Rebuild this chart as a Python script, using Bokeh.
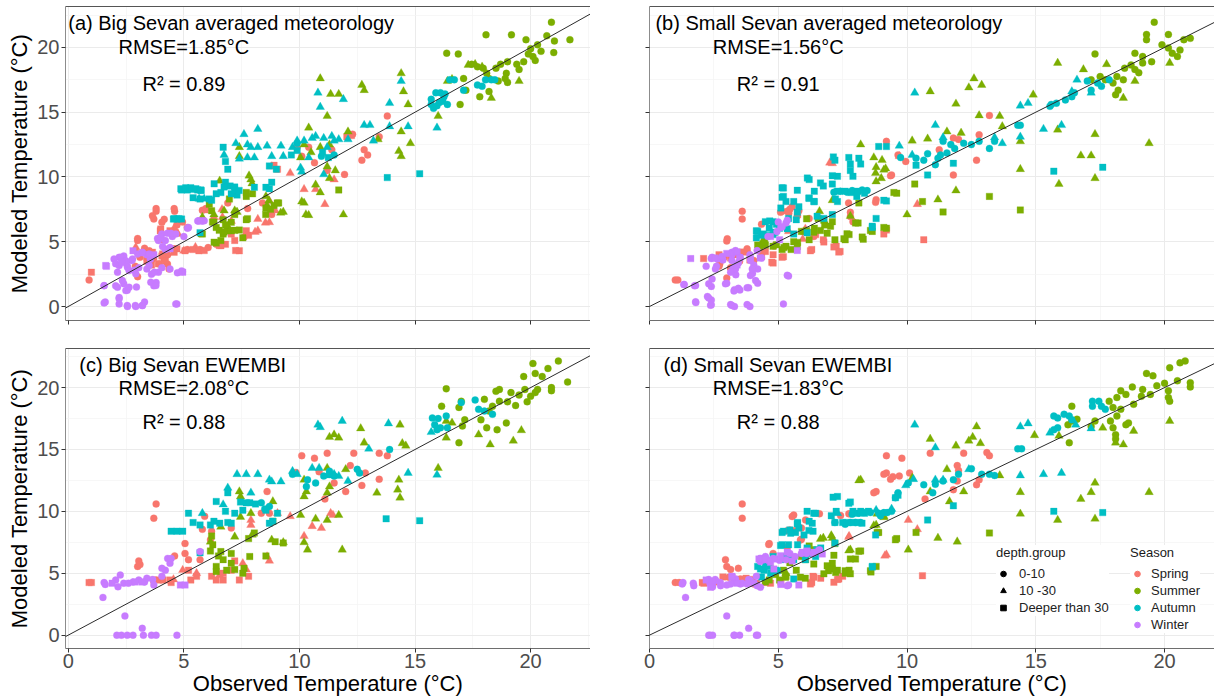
from bokeh.plotting import figure
from bokeh.models import (Label, Slope, LinearAxis, FixedTicker, Legend, LegendItem, Range1d)
from bokeh.layouts import column, row
from bokeh.embed import file_html
from bokeh.resources import INLINE

FONT = "Liberation Sans"
SEASONS = ["Spring", "Summer", "Autumn", "Winter"]
SEASON_COLORS = ["#F8766D", "#7CAE00", "#00BFC4", "#C77CFF"]
DEPTH_GROUPS = ["0-10", "10 -30", "Deeper than 30"]
DEPTH_MARKERS = ["circle", "triangle", "square"]
MARKER_SIZES = [7.0, 8.5, 6.5]
TICKS = [0, 5, 10, 15, 20]
MINOR_TICKS = [2.5, 7.5, 12.5, 17.5, 22.5]

TITLES = ["(a) Big Sevan averaged meteorology", "(b) Small Sevan averaged meteorology",
          "(c) Big Sevan EWEMBI", "(d) Small Sevan EWEMBI"]
RMSE_TEXT = ["RMSE=1.85°C", "RMSE=1.56°C", "RMSE=2.08°C", "RMSE=1.83°C"]
R2_TEXT = ["R² = 0.89", "R² = 0.91", "R² = 0.88", "R² = 0.88"]

# ---------------- Panel (a) Big Sevan averaged meteorology ----------------
a_spring_circ = [(3.8,7.35),(3.7,6.75),(4.6,7.35),(3.0,5.1),(0.9,2.05),(3.3,4.5),(4.05,6.5),(4.7,6.3),(5.15,6.1),(6.9,8.0),(8.4,8.0),(9.9,12.3),(10.4,12.3),(10.65,11.1),(11.2,10.5),(11.95,10.2),(12.3,13.3),(12.8,12.1),(12.95,11.7),(12.7,11.3),(13.45,13.1),(13.8,14.7),(11.4,12.1),(5.7,4.4),(6.05,4.55),(6.4,4.8),(5.15,4.4),(10.1,11.6),(3.5,4.3),(4.3,4.0),(2.9,3.1),(3.1,3.8),
                 (3.0,5.25),(3.8,7.56),(4.58,7.56),(3.64,7.0),(4.15,6.73),(4.94,6.52),(3.0,2.3),(3.64,3.67),(3.93,3.28),(4.15,3.67),(4.29,3.28),(4.36,2.9),(7.6,5.35),(8.8,7.1),(7.76,7.56),(5.95,7.56),(5.8,7.43)]
a_spring_tri = [(2.9,4.4),(4.1,5.1),(4.65,5.85),(4.75,5.6),(5.9,7.4),(6.3,6.9),(6.65,7.5),(7.05,6.6),(7.7,5.6),(8.2,5.85),(8.2,6.75),(8.7,6.5),(8.95,7.4),(8.7,8.15),(9.6,10.3),(10.2,9.05),(10.7,9.05),(11.1,7.9),(11.5,9.8),(8.8,10.8),(5.0,4.3),
                (4.58,6.05),(2.92,4.58),(5.5,4.58),(8.08,5.75),(8.53,6.47),(6.67,6.9)]
a_spring_sq = [(1.0,2.65),(3.98,5.85),(4.4,5.85),(3.4,3.5),(3.7,3.8),(4.05,3.9),(4.2,3.5),(3.9,3.3),(3.4,3.8),(4.5,4.45),(4.7,4.45),(5.05,4.3),(5.4,4.4),(5.65,4.3),(7.4,4.3),(6.8,4.8),(6.6,4.7),(7.05,5.6),(7.7,5.85),(7.8,5.5),(7.2,5.1),(9.05,10.6),(8.9,10.9),(12.05,13.1),(12.25,13.2),(4.2,4.4),(3.6,3.2),
               (4.0,5.98),(3.64,4.19),(4.08,4.06),(4.58,4.19),(5.88,4.32),(6.53,4.71),(7.24,4.32)]
a_summer_circ = [(20.9,21.95),(18.07,20.97),(19.17,20.97),(16.37,19.56),(16.87,19.49),(21.03,20.5),(19.8,20.6),(20.3,20.2),(20.45,19.7),(21.0,19.6),(21.7,20.6),(20.7,20.9),(20.0,19.9),(20.2,19.0),(19.7,18.9),(19.4,18.7),(19.0,18.9),(18.7,18.7),(18.5,18.4),(18.95,18.0),(18.9,17.6),(19.0,17.3),(18.6,17.4),(18.2,17.6),(18.1,18.0),(17.7,18.5),(17.45,18.7),(17.95,18.4),(18.2,16.6),(17.8,16.2),(16.95,15.6),(17.2,16.7),(17.1,17.6),(19.5,18.3),(19.9,19.5),(20.1,19.3)]
a_summer_tri = [(17.6,18.7),(17.9,18.5),(17.3,18.65),(16.4,17.4),(16.6,17.55),(18.3,16.1),(19.5,17.4),(16.0,14.7),(14.4,18.0),(14.5,16.6),(12.7,17.1),(12.8,16.7),(11.35,16.4),(11.7,16.4),(10.9,17.6),(14.7,15.6),(11.2,14.7),(10.4,13.8),(14.4,13.5),(14.3,12.0),(14.4,11.6),(14.8,12.6),(13.4,12.9),(12.1,13.5),(11.3,12.5),(10.9,12.3),(10.2,12.5),(10.5,11.9),(10.05,11.5),(11.2,10.8),(11.55,10.5),(11.3,9.9),(10.7,9.4),(10.9,8.8),(10.2,8.0),(10.4,7.05),(11.9,7.1),(9.3,7.3),(8.6,7.8),(8.55,8.5),(7.9,9.8),(7.4,12.3),(7.4,11.6),(6.55,9.7),(6.3,7.1),(7.3,7.3),(7.95,9.5),(6.9,6.2),
                (5.8,6.9),(6.74,7.4),(7.2,7.4),(7.82,10.1),(9.19,7.23),(10.1,8.1),(10.28,7.1),(8.68,8.18)]
a_summer_sq = [(11.7,9.0),(9.1,8.0),(8.55,7.6),(7.7,8.5),(7.97,8.7),(7.7,6.7),(7.2,7.1),(7.05,6.5),(7.05,5.85),(6.7,5.6),(6.4,6.1),(6.3,6.5),(6.1,7.9),(6.2,7.4),(5.8,5.6),(6.6,5.1),(7.55,5.3),(6.9,5.85),(6.7,6.7),(6.4,4.9),(6.97,8.3),(7.7,8.8),(8.9,7.8),(7.4,5.9),(6.8,6.3),
               (6.24,6.52),(6.53,5.88),(6.74,5.75),(5.75,5.62),(6.31,4.97),(7.2,5.88),(7.75,6.78),(8.54,7.1),(8.75,7.5),(9.04,8.0)]
a_autumn_circ = [(15.9,16.5),(16.1,16.5),(16.3,16.4),(15.7,16.0),(15.7,15.6),(15.95,15.5),(16.2,15.85),(16.4,15.6),(16.05,15.75),(16.5,17.5),(16.7,17.5),(17.1,16.7),(17.7,17.1),(17.9,17.0),(18.3,17.5),(18.45,17.5),(18.05,17.5),(15.8,15.3),(16.25,16.2),(11.5,11.7),(10.95,11.6),(9.9,12.6)]
a_autumn_tri = [(15.95,13.8),(10.8,16.5),(10.9,15.4),(11.9,16.0),(14.4,17.4),(13.9,15.7),(13.9,13.9),(14.7,13.9),(12.8,14.0),(13.05,14.0),(8.2,13.7),(7.6,13.3),(7.25,12.6),(7.75,12.5),(7.9,12.3),(8.2,12.3),(8.6,12.4),(9.2,12.4),(8.8,11.6),(9.3,11.6),(9.7,12.3),(9.9,12.8),(10.2,12.8),(10.55,13.0),(10.7,13.15),(11.05,13.0),(11.4,13.15),(11.5,12.8),(11.7,12.9),(10.4,11.5),(10.05,10.7),(10.1,10.4),(11.05,10.2),(8.05,11.5),(7.75,11.5),(7.4,11.4),(11.2,12.3),(12.1,12.9),(13.2,12.8),
                (5.66,8.31),(5.88,8.31),(6.74,11.7)]
a_autumn_sq = [(6.7,12.3),(6.9,10.6),(6.8,11.2),(13.8,9.95),(15.2,10.25),(5.7,5.7),(4.9,9.0),(5.15,9.0),(5.4,9.05),(5.6,9.0),(5.75,8.95),(5.7,8.3),(6.1,8.3),(6.4,8.7),(6.6,8.8),(7.05,8.7),(7.3,8.6),(7.0,9.3),(6.8,9.6),(7.2,9.0),(8.55,9.2),(8.8,9.6),(8.7,9.1),(8.05,9.2),(5.4,8.4),(4.7,6.75),(4.55,6.75),(4.9,6.75),(11.0,11.9),(11.25,11.5),(9.9,12.05),(9.65,11.7),(8.7,10.85),(9.0,10.6),(6.2,8.2),
               (4.87,9.09),(5.08,9.17),(5.3,9.17),(5.52,9.09),(5.73,9.0),(4.58,6.78),(4.79,6.78),(6.31,9.47),(6.74,9.22),(7.2,9.22),(7.39,8.96)]
a_winter_circ = [(1.55,1.6),(1.6,0.35),(2.2,0.2),(2.55,0.08),(2.9,0.08),(3.2,0.08),(3.3,0.35),(4.7,0.2),(2.2,0.7),(2.55,1.25),(2.95,1.5),(2.4,1.75),(2.05,1.6),(3.7,1.6),(3.8,1.85),(2.05,3.3),(2.2,3.8),(2.4,3.9),(2.75,3.55),(2.55,3.15),(3.2,4.15),(3.4,4.0),(3.55,3.65),(3.05,3.0),(2.85,2.8),(3.4,2.9),(3.9,2.65),(3.6,2.5),(4.05,3.0),(4.4,2.9),(4.9,2.75),(4.4,4.55),(4.2,5.1),(3.9,5.1),(4.05,5.6),(4.5,5.4),(4.2,4.4),(4.65,5.6),(5.2,6.1),(5.6,6.6),(5.8,6.6),(5.0,5.4),
                 (1.55,0.28),(2.2,0.6),(2.56,0.0),(2.92,0.0),(3.21,0.07),(4.65,0.2),(1.55,1.62),(2.13,1.49),(2.49,1.23),(2.63,1.49),(2.34,2.0),(2.13,2.65),(2.2,3.16),(2.56,3.03),(1.98,3.67),(2.27,3.8),(2.49,3.54),(2.78,3.67),(3.0,4.06),(3.21,4.19),(3.5,4.06),(3.5,3.16),(3.72,2.65),(3.57,1.88),(3.79,1.62),(2.63,2.78),(2.92,2.52),(3.86,5.25),(4.0,5.39),(4.29,5.65),(4.44,5.65),(4.08,4.63),(4.72,2.6),(4.94,2.69),(5.16,6.05),(5.66,6.62),(5.88,6.62)]
a_winter_tri = []
a_winter_sq = [(1.65,3.1),(2.8,4.3),(4.4,4.45),(4.95,2.65),(5.7,6.6),(3.7,4.0),(2.3,3.4),(1.62,3.16)]

# ---------------- Panel (b) Small Sevan averaged meteorology ----------------
b_spring_circ = [(3.6,7.35),(3.6,6.75),(3.0,5.05),(1.0,2.05),(1.1,2.05),(3.15,2.95),(2.7,3.1),(3.0,2.2),(5.15,7.35),(5.8,7.4),(5.45,7.5),(8.8,8.25),(9.4,10.15),(9.2,12.75),(9.65,11.7),(9.95,11.2),(11.25,12.1),(11.8,13.0),(12.0,12.9),(12.8,13.25),(13.2,14.75),(12.7,11.3),(11.8,10.15),(7.8,6.95),(7.9,6.55),(6.2,6.8),(5.95,5.8),(3.5,3.5),(3.8,4.2),(4.3,4.3),(2.9,3.8),
                 (3.02,5.23),(2.73,3.3),(3.15,3.0),(3.79,4.45),(4.05,3.55),(4.35,6.35),(5.09,7.28),(5.35,7.35),(5.54,7.7),(5.41,7.2),(5.74,7.0),(4.83,4.67),(6.38,5.4),(7.8,7.27),(7.73,8.0),(8.78,8.04),(9.36,10.1)]
b_spring_tri = [(7.1,11.05),(10.4,7.9),(5.4,5.8),(6.05,6.0),(5.95,5.2),(9.7,11.6),(7.0,11.1)]
b_spring_sq = [(2.1,3.7),(3.4,4.0),(3.6,4.2),(2.7,4.0),(3.15,3.75),(3.9,3.6),(4.35,3.85),(4.5,4.25),(4.8,4.0),(5.2,3.85),(4.8,3.35),(6.3,4.4),(7.25,4.65),(7.4,4.25),(10.65,5.15),(9.2,5.9),(6.75,5.15),(6.45,5.55),(5.75,7.1),
               (4.75,3.42),(5.15,3.8),(6.25,4.3),(6.77,4.98),(7.16,4.6),(7.35,4.2),(9.1,5.6)]
b_summer_circ = [(19.6,21.95),(19.3,21.0),(20.15,21.0),(19.3,20.6),(17.3,19.5),(18.85,19.55),(19.15,19.3),(20.15,19.95),(20.6,19.8),(20.75,20.6),(21.0,20.7),(19.9,20.2),(19.5,18.9),(19.15,18.8),(18.7,18.65),(18.45,18.4),(18.85,18.3),(19.0,18.05),(18.15,17.75),(18.4,17.5),(18.0,17.25),(18.1,16.35),(18.2,16.7),(17.7,17.5),(17.5,17.75),(17.15,17.5),(20.5,19.3),(20.3,19.55)]
b_summer_tri = [(15.85,18.8),(16.85,18.3),(17.75,18.7),(18.4,16.1),(18.85,17.4),(20.2,18.8),(19.4,12.6),(17.3,13.3),(16.75,11.65),(17.15,11.65),(17.3,9.9),(15.9,9.45),(14.4,10.6),(14.4,12.75),(15.85,13.65),(14.9,16.35),(13.6,14.7),(13.7,13.9),(12.8,14.75),(12.6,17.6),(12.4,16.9),(12.9,17.1),(11.9,15.65),(10.9,16.6),(11.55,13.5),(12.1,13.4),(10.8,12.95),(10.2,12.8),(8.2,12.5),(8.8,10.75),(9.1,10.55),(8.8,9.65),(11.9,8.95),(11.2,8.25),(10.0,7.1),(4.35,4.9),(6.6,7.35),(6.85,6.3),(9.0,9.9),
                (8.71,11.5),(9.03,11.3),(9.17,10.65),(8.78,10.3),(7.8,6.98),(7.1,8.2)]
b_summer_sq = [(13.2,8.5),(14.4,7.45),(11.4,7.3),(10.6,8.1),(10.3,9.45),(9.6,8.75),(9.2,6.05),(8.65,5.8),(8.3,5.2),(8.1,6.45),(7.75,5.55),(7.6,5.15),(7.2,5.15),(7.1,6.55),(6.9,5.65),(6.8,6.3),(6.4,6.05),(6.2,5.15),(5.9,5.8),(5.3,4.65),(5.5,4.4),(5.15,4.4),(4.8,4.65),(4.5,4.75),(4.2,4.75),(5.75,4.95),(6.55,6.8),
               (9.49,8.8),(8.13,8.0),(8.0,6.45),(6.77,6.66),(7.03,6.2),(6.1,6.77),(6.1,5.87),(6.38,5.74),(7.67,5.61),(7.55,5.23),(8.26,5.36),(8.58,5.87),(9.1,6.1),(5.22,4.55),(4.93,4.77),(4.28,4.64),(4.47,5.03),(5.6,5.0),(5.74,4.64),(6.64,5.87)]
b_autumn_circ = [(15.55,15.45),(15.8,15.7),(16.15,15.95),(16.4,16.2),(16.5,16.5),(17.15,16.7),(17.4,17.25),(17.55,17.0),(17.85,17.5),(17.0,17.4),(15.6,15.6),(14.3,14.0),(14.4,14.0),(13.4,12.75),(13.2,12.2),(12.8,12.75),(12.5,12.5),(12.2,12.6),(11.85,12.2),(11.55,11.85),(11.3,11.7),(11.2,11.45),(11.1,10.95),(10.65,11.3),(10.35,11.45),(9.75,11.5),(10.8,11.8),(11.4,12.75),(11.7,12.5),
                 (7.16,8.82),(7.42,8.9),(7.68,8.82),(7.87,8.95),(8.07,8.82),(8.26,9.0),(8.45,8.95)]
b_autumn_tri = [(10.3,16.5),(11.1,14.0),(14.4,15.5),(14.7,15.7),(15.3,13.7),(16.0,14.0),(14.4,13.1),(16.6,17.5),(16.4,16.6),(17.15,16.5),(11.4,13.05),(9.7,12.4),(10.2,11.7),(13.4,13.05),(13.7,12.6)]
b_autumn_sq = [(8.9,12.35),(9.2,12.35),(7.2,11.3),(7.8,11.0),(8.2,11.0),(7.9,10.05),(7.3,10.05),(7.1,9.45),(6.2,9.8),(6.75,9.3),(6.4,8.9),(6.2,8.35),(6.4,8.1),(5.2,9.15),(5.2,8.5),(5.3,8.1),(5.6,8.1),(5.8,7.7),(7.3,8.9),(7.6,8.9),(7.85,8.8),(8.1,8.9),(8.35,8.75),(8.05,8.5),(7.3,8.1),(9.2,8.15),(10.8,10.15),(10.35,10.9),(11.8,11.05),(15.7,10.45),(17.6,10.75),(8.65,6.1),(8.8,6.8),(5.1,7.6),(4.8,6.55),(4.2,5.8),(4.35,5.5),(4.5,6.55),(4.65,6.05),(4.8,5.55),(5.05,6.05),(4.15,5.3),(5.4,6.8),(5.7,6.7),
               (5.15,9.16),(5.15,8.44),(5.74,8.97),(6.13,9.92),(6.19,8.37),(6.38,8.1),(6.64,9.54),(7.1,10.1),(7.74,11.5),(8.13,11.45),(7.8,10.5),(7.14,11.55),(4.67,6.61),(4.93,6.35),(4.15,5.84),(4.41,5.6),(4.61,5.48),(4.87,5.74),(5.35,6.0),(5.6,5.6),(6.12,5.7),(5.74,7.28),(6.51,6.96),(6.77,6.8),(7.1,7.1),(7.22,8.3),(9.1,8.2),(8.65,6.2)]
b_winter_circ = [(1.8,0.3),(2.4,0.13),(3.2,0.08),(3.3,0.0),(3.9,0.0),(5.2,0.2),(2.25,0.77),(2.4,0.5),(3.3,1.3),(3.45,1.4),(3.85,1.45),(3.0,1.8),(2.4,1.55),(1.75,1.6),(1.35,1.7),(4.2,1.8),(5.4,2.35),(4.0,2.55),(3.35,2.45),(3.25,2.95),(3.45,3.35),(2.85,3.6),(2.4,3.7),(2.6,3.1),(2.2,3.1),(4.05,3.2),(4.35,3.75),(4.2,2.9),(3.9,4.0),(3.2,4.0),(4.95,5.8),(5.3,6.45),(5.1,6.1),(4.6,5.4),
                 (2.43,3.8),(2.63,3.66),(2.82,3.86),(3.2,4.19),(3.34,4.32),(3.2,3.55),(3.53,3.8),(3.92,3.8),(4.18,4.32),(3.99,2.9),(4.12,2.0),(3.92,2.39),(3.34,2.9),(3.15,2.65),(2.56,2.9),(2.43,2.13),(2.3,1.75),(1.79,1.62),(1.33,1.7),(2.3,0.66),(2.37,0.1),(1.79,0.36),(3.15,0.15),(3.28,1.2),(3.51,1.27),(3.79,1.45),(3.79,0.15),(5.35,2.41),(2.95,1.75),(5.0,6.53),(5.35,6.66),(3.92,3.55),(5.15,6.15)]
b_winter_tri = []
b_winter_sq = [(1.6,3.7),(2.55,3.75),(3.0,4.1),(3.4,4.2),(3.5,3.75),(4.3,3.75),(4.7,5.4),(5.05,5.15),(3.4,3.2),(5.74,4.33)]

# ---------------- Panel (c) Big Sevan EWEMBI ----------------
c_spring_circ = [(3.8,10.6),(3.7,9.45),(3.05,6.0),(3.0,5.55),(3.1,5.7),(5.05,7.4),(5.05,6.6),(5.2,6.1),(5.7,6.1),(5.9,9.6),(5.8,8.55),(7.05,8.65),(6.15,7.7),(6.2,8.4),(8.6,11.6),(8.7,9.85),(8.35,9.85),(10.1,14.5),(10.65,14.3),(11.2,14.7),(10.85,13.2),(11.5,12.3),(12.0,11.6),(11.1,11.0),(12.2,13.7),(12.35,14.7),(12.7,12.1),(13.45,14.7),(13.8,14.5),(13.45,12.6),(12.85,13.1),(9.85,13.15),(4.6,6.4)]
c_spring_tri = [(4.55,4.5),(4.95,5.25),(5.55,5.0),(6.55,4.85),(7.55,5.8),(7.7,5.3),(7.9,9.3),(7.9,8.9),(8.6,6.35),(8.7,6.0),(9.05,9.85),(9.6,9.6),(10.2,8.0),(10.55,8.8),(10.95,8.65),(11.35,9.85),(11.45,9.7)]
c_spring_sq = [(1.0,4.25),(0.9,4.25),(3.7,4.45),(3.9,4.45),(4.1,4.45),(4.4,4.45),(4.45,4.25),(5.2,5.25),(5.3,4.45),(5.55,4.75),(6.2,4.75),(6.4,4.45),(6.7,4.45),(6.7,5.0),(7.4,4.45),(7.8,4.75),(7.05,5.25),(7.2,6.0)]
c_summer_circ = [(20.1,21.95),(21.2,22.15),(19.7,20.9),(20.2,21.15),(20.75,21.55),(20.5,20.9),(16.35,19.9),(18.5,19.7),(18.65,19.85),(19.15,19.6),(19.5,19.4),(19.75,19.85),(20.0,19.3),(20.3,19.85),(20.9,20.0),(20.9,19.75),(21.6,20.45),(20.2,19.6),(19.85,18.85),(19.35,18.55),(19.0,18.85),(18.65,18.9),(18.35,18.5),(18.0,19.05),(18.2,18.1),(17.85,17.4),(18.1,16.75),(18.55,16.6),(18.95,17.15),(17.0,18.9),(16.9,18.4),(16.15,18.5),(16.9,15.55),(17.15,17.4),(17.05,16.9)]
c_summer_tri = [(16.35,17.3),(16.6,17.15),(17.75,16.2),(18.25,15.4),(19.25,15.7),(19.6,16.55),(16.35,15.95),(16.0,13.5),(14.35,17.0),(14.45,15.5),(14.6,15.3),(14.3,12.55),(14.25,11.75),(14.35,11.1),(13.35,11.5),(12.8,15.55),(12.65,16.7),(12.0,13.4),(11.5,16.2),(11.3,16.0),(11.7,15.95),(11.2,13.5),(11.3,12.0),(11.2,11.5),(11.7,9.7),(11.2,9.3),(10.7,9.4),(10.2,12.55),(10.3,11.6),(10.2,11.2),(10.05,9.7),(10.2,7.5),(10.35,6.9),(11.85,6.9),(8.85,10.8),(9.3,7.5),(8.8,7.7),(7.95,8.1),(7.9,9.85),(7.4,11.6),(7.45,11.2),(7.45,9.55),(6.6,8.75),(6.15,7.55),(7.2,7.95)]
c_summer_sq = [(6.2,8.0),(6.25,7.3),(6.15,6.8),(6.6,6.75),(6.5,6.4),(7.05,6.6),(6.7,6.1),(6.4,5.55),(7.05,5.8),(7.2,5.3),(6.85,5.25),(6.4,5.15),(7.6,5.4),(7.55,5.0),(7.85,6.35),(8.55,6.4),(9.3,7.45),(8.95,7.55),(8.85,9.2),(8.05,8.25),(7.8,7.8)]
c_autumn_circ = [(15.75,17.55),(16.0,17.5),(16.35,17.7),(15.85,17.0),(16.1,16.75),(15.95,16.6),(16.4,16.75),(17.0,18.8),(17.6,19.0),(17.75,18.25),(18.0,18.1),(18.35,17.85),(13.9,15.0),(12.5,13.4),(12.6,13.1),(11.3,13.0),(11.05,12.85),(11.5,12.85),(10.35,12.55),(10.3,12.0),(10.7,12.3),(9.7,13.0),(11.3,13.25),(8.35,10.7),(8.7,10.4),(8.5,10.2)]
c_autumn_tri = [(10.8,17.0),(10.9,16.8),(11.85,17.3),(13.85,17.1),(13.0,15.05),(14.7,13.1),(15.95,12.95),(15.7,16.4),(7.3,13.0),(7.7,13.0),(8.2,13.0),(8.7,12.55),(8.8,12.4),(9.2,12.4),(9.7,13.25),(9.9,13.0),(10.55,13.5),(10.85,13.5),(11.35,12.9),(11.5,13.0),(11.7,12.85),(7.9,11.5),(6.9,11.9),(5.8,9.85),(6.7,10.55),(12.1,12.45)]
c_autumn_sq = [(4.45,8.4),(4.7,8.4),(4.95,8.4),(5.2,9.85),(5.4,9.1),(5.7,8.9),(6.15,8.9),(6.3,9.2),(6.55,9.05),(6.4,10.8),(6.8,10.0),(6.9,9.1),(7.05,9.05),(7.2,9.85),(7.55,10.1),(7.45,10.75),(7.7,10.7),(7.85,10.7),(8.1,10.6),(8.55,10.1),(8.7,9.05),(8.85,9.2),(9.05,9.85),(13.75,9.4),(15.2,9.25),(5.7,6.65),(6.9,11.5)]
c_winter_circ = [(2.1,0.0),(2.3,0.0),(2.55,0.0),(2.8,0.0),(3.25,0.0),(3.6,0.0),(3.8,0.0),(4.7,0.0),(3.2,0.55),(2.45,1.55),(1.5,3.05),(1.55,4.25),(2.05,4.45),(2.25,4.85),(2.4,4.2),(2.8,4.3),(3.05,4.45),(3.4,4.6),(3.65,4.5),(3.7,4.05),(2.15,3.9),(4.2,5.25),(4.05,5.4),(4.4,5.8),(4.3,6.2),(4.45,6.2),(4.05,4.75),(5.7,6.75),(1.6,4.1),(2.6,4.2),(3.3,4.3)]
c_winter_tri = []
c_winter_sq = [(4.85,4.05),(5.05,4.05),(1.9,4.2),(2.9,4.3),(3.2,4.3)]

# ---------------- Panel (d) Small Sevan EWEMBI ----------------
d_spring_circ = [(3.6,10.6),(3.6,9.45),(2.95,6.1),(3.0,5.55),(3.15,5.3),(3.45,5.4),(1.0,4.25),(1.15,4.25),(4.65,7.4),(4.8,6.6),(5.6,9.7),(5.45,8.5),(5.9,8.65),(6.6,9.8),(7.8,9.8),(5.9,7.75),(8.8,11.6),(9.2,14.5),(9.8,14.3),(9.2,13.1),(9.45,12.8),(9.7,12.85),(10.1,13.1),(10.9,14.7),(12.2,14.7),(13.1,14.75),(13.2,14.5),(11.95,13.7),(12.0,13.3),(11.95,12.45),(11.8,11.75),(12.7,12.15),(12.8,12.55),(10.7,11.0),
                 (3.08,4.68),(3.53,4.54),(3.86,4.41),(4.05,4.14),(4.63,7.32),(5.35,8.44),(5.54,9.58),(5.35,7.1),(5.86,7.69),(6.06,9.31),(7.42,9.66),(7.74,9.8),(9.1,13.0),(9.36,12.6),(8.71,11.5)]
d_spring_tri = [(7.75,8.0),(9.2,6.5),(10.4,8.55),(10.05,9.3),(7.74,7.92),(9.14,6.42)]
d_spring_sq = [(2.05,4.25),(2.55,4.3),(2.85,4.7),(3.3,4.5),(3.5,4.5),(3.75,4.6),(4.0,4.5),(4.15,4.2),(4.5,4.25),(4.7,4.2),(5.1,4.3),(6.35,4.75),(6.65,4.6),(6.3,4.25),(7.3,4.5),(7.5,4.75),(10.6,4.8),(5.65,8.45),
               (2.11,4.2),(6.25,4.14),(6.38,4.68),(7.16,4.27),(7.35,4.54)]
d_summer_circ = [(20.8,22.15),(20.6,22.0),(20.2,21.6),(19.3,21.15),(19.55,20.95),(20.5,20.55),(21.0,20.4),(21.0,20.05),(20.0,20.35),(19.7,20.15),(19.15,19.85),(18.75,20.05),(18.3,19.75),(18.5,19.45),(18.15,19.2),(17.85,18.9),(19.1,19.3),(19.45,19.45),(20.15,19.75),(20.15,19.2),(20.2,18.9),(18.8,18.65),(18.0,18.4),(18.3,18.25),(18.15,17.7),(17.9,17.3),(18.0,16.75),(18.5,17.0),(18.6,17.15),(18.1,16.2),(18.1,15.85),(17.3,17.3),(17.15,16.85),(16.4,18.5),(16.4,17.3),(16.6,17.45),(16.25,17.0),(16.3,15.55)]
d_summer_tri = [(20.2,17.3),(18.8,16.5),(18.4,15.4),(18.1,15.55),(17.6,16.75),(15.9,16.1),(14.95,16.15),(12.7,16.85),(12.55,16.0),(12.4,15.7),(12.85,15.5),(11.9,15.3),(10.9,15.85),(11.55,13.4),(10.9,11.6),(11.65,10.8),(12.2,11.6),(13.6,12.9),(14.4,11.55),(14.4,9.8),(15.85,9.3),(16.75,11.0),(17.15,11.55),(17.3,12.3),(17.3,9.4),(19.4,11.55),(11.95,7.55),(11.2,7.85),(10.05,6.9),(10.2,12.7),(8.2,12.55),(8.8,8.9),(9.1,9.6),(7.1,7.85),(6.75,7.85),(7.8,6.9),(4.8,5.25),(5.3,5.0),
                (8.13,12.5),(6.64,7.77),(7.06,8.05),(7.74,6.83),(8.71,8.85),(9.1,9.52),(8.84,9.8)]
d_summer_sq = [(13.2,8.25),(10.35,8.3),(9.6,7.8),(8.9,8.3),(8.8,5.55),(8.6,5.1),(8.2,6.8),(8.0,6.15),(7.75,5.25),(7.6,5.0),(7.3,5.25),(7.1,5.8),(6.95,5.2),(7.2,7.4),(6.35,6.9),(6.2,7.2),(5.9,6.35),(5.45,5.85),(5.2,5.25),(5.3,4.75),(5.05,4.45),(4.65,4.45),(4.9,4.9),(5.7,5.25),(6.05,4.6),
               (7.16,6.45),(8.13,6.78),(7.8,6.15),(6.9,5.6),(7.1,5.34),(7.23,5.07),(7.6,5.2),(7.8,4.95),(6.77,4.95),(6.38,5.74),(6.06,6.1),(5.86,4.68),(5.28,4.68),(4.5,4.3),(8.58,5.2),(8.84,8.3),(9.55,7.7)]
d_autumn_circ = [(15.7,17.7),(15.85,17.55),(16.1,17.85),(16.3,17.7),(16.4,17.4),(15.7,16.6),(15.85,16.75),(17.2,18.9),(17.45,18.9),(17.55,18.5),(17.7,18.25),(17.2,18.5),(14.3,15.05),(14.45,15.05),(12.5,13.45),(13.2,13.0),(13.4,12.9),(12.9,13.0),(12.0,13.0),(11.8,12.55),(11.4,12.45),(11.1,12.2),(10.65,12.15),(11.0,11.5),(10.05,12.3),(9.55,11.1),(9.65,11.5),(8.9,9.85),(9.1,9.9),(9.4,10.0),
                 (7.2,9.1),(7.6,8.96),(7.8,9.1),(8.0,9.1),(8.2,9.1),(7.87,9.77),(8.13,9.85),(8.32,9.9),(8.58,9.9),(8.97,9.65),(9.23,9.9)]
d_autumn_tri = [(10.3,17.0),(11.1,15.15),(14.4,16.85),(14.7,17.1),(15.55,16.35),(14.4,12.9),(15.3,13.0),(16.0,13.1),(17.15,16.7),(16.55,17.0),(12.4,13.4),(11.1,12.55),(11.4,12.55),(9.95,12.1),(10.25,12.6),(8.8,10.1),(9.4,10.2),(7.3,9.85)]
d_autumn_sq = [(7.3,11.2),(7.8,10.75),(7.25,10.0),(7.9,10.0),(8.05,9.85),(8.2,10.0),(8.35,9.85),(8.5,10.0),(7.2,9.1),(7.5,9.1),(7.65,9.1),(7.9,9.1),(8.1,9.1),(8.25,9.05),(6.45,9.85),(6.2,9.2),(5.75,9.1),(5.8,8.65),(6.35,8.4),(6.0,8.1),(5.2,8.4),(5.45,8.5),(5.4,7.3),(5.15,7.3),(5.75,7.3),(6.2,6.6),(6.45,6.35),(6.5,6.9),(6.05,6.1),(5.6,6.1),(5.3,6.35),(5.1,6.1),(4.8,6.35),(4.35,6.1),(4.2,5.55),(4.45,5.25),(4.65,5.55),(4.9,5.25),(4.7,5.0),(4.35,4.7),(7.2,7.45),(8.65,5.55),(10.8,9.3),(11.8,10.45),(9.65,11.3),(15.7,10.0),(17.6,9.9),(6.65,7.05),
               (7.13,11.15),(7.74,10.65),(6.12,10.0),(6.38,9.85),(6.32,9.04),(5.74,8.99),(5.67,8.3),(5.15,8.3),(5.48,8.24),(5.09,7.25),(6.19,8.45),(6.12,7.04),(7.06,9.64),(8.78,8.1),(8.65,5.5),(9.55,11.1),(4.31,5.34),(4.5,5.6),(4.96,5.2),(5.6,4.54),(5.48,6.29)]
d_winter_circ = [(2.35,0.0),(2.45,0.0),(3.3,0.0),(3.5,0.0),(4.15,0.0),(4.2,0.0),(5.2,0.0),(3.85,0.55),(3.0,1.55),(1.4,3.05),(1.3,4.25),(1.7,4.2),(2.35,4.2),(2.55,4.5),(2.75,4.25),(3.0,4.05),(3.3,4.3),(3.6,4.2),(3.85,4.5),(4.15,4.75),(4.3,5.95),(4.3,6.2),(4.45,6.1),(4.5,6.35),(4.8,6.2),(5.05,6.05),(5.3,6.1),(5.45,6.6),(5.65,6.35),(5.9,6.6),(6.1,6.6),(6.35,6.6),(6.6,6.9),(5.4,4.05),(2.45,3.9),
                 (1.27,4.14),(1.72,4.0),(2.37,4.14),(2.56,4.41),(2.76,4.0),(3.15,4.14),(3.34,4.54),(3.53,4.14),(3.79,4.14),(3.92,4.41),(4.18,4.0),(4.31,3.87),(2.3,4.5),(5.35,4.0),(2.3,0.0),(3.28,0.0)]
d_winter_tri = []
d_winter_sq = [(2.2,4.45),(2.45,4.3),(3.2,4.75),(3.4,4.2),(4.05,4.2),(5.1,4.1),(5.8,4.05),(4.35,6.2),(4.65,6.05),
               (2.37,3.87),(3.21,4.68),(4.25,6.15),(4.5,6.15),(4.7,5.88),(4.83,5.34),(4.9,6.15),(5.09,6.42),(5.35,6.69),(5.54,6.0),(5.93,6.69),(6.12,6.8),(6.38,6.69),(6.58,6.8),(6.71,6.56)]

PANEL_POINTS = [
    [[a_spring_circ, a_spring_tri, a_spring_sq], [a_summer_circ, a_summer_tri, a_summer_sq],
     [a_autumn_circ, a_autumn_tri, a_autumn_sq], [a_winter_circ, a_winter_tri, a_winter_sq]],
    [[b_spring_circ, b_spring_tri, b_spring_sq], [b_summer_circ, b_summer_tri, b_summer_sq],
     [b_autumn_circ, b_autumn_tri, b_autumn_sq], [b_winter_circ, b_winter_tri, b_winter_sq]],
    [[c_spring_circ, c_spring_tri, c_spring_sq], [c_summer_circ, c_summer_tri, c_summer_sq],
     [c_autumn_circ, c_autumn_tri, c_autumn_sq], [c_winter_circ, c_winter_tri, c_winter_sq]],
    [[d_spring_circ, d_spring_tri, d_spring_sq], [d_summer_circ, d_summer_tri, d_summer_sq],
     [d_autumn_circ, d_autumn_tri, d_autumn_sq], [d_winter_circ, d_winter_tri, d_winter_sq]],
]

Y_RANGE = (-1.08, 23.16)
TITLE_X = [0.0, 0.23, 0.48, 0.54]


def style_axis(ax, labelled):
    if labelled:
        ax.ticker = FixedTicker(ticks=TICKS, minor_ticks=[])
    else:
        # unlabelled axis: tick marks only (drawn as minor ticks, which carry no labels)
        ax.ticker = FixedTicker(ticks=[], minor_ticks=TICKS)
    ax.axis_line_color = "#8c8c8c"
    ax.axis_line_width = 1
    ax.major_tick_line_color = "#333333"
    ax.major_tick_out = 4
    ax.major_tick_in = 0
    ax.minor_tick_line_color = "#333333" if not labelled else None
    ax.minor_tick_out = 4
    ax.minor_tick_in = 0
    ax.major_label_text_font = FONT
    ax.major_label_text_font_size = "20px"
    ax.major_label_text_color = "#4D4D4D"
    ax.major_label_standoff = 2 if labelled else 0
    ax.axis_label_text_font = FONT
    ax.axis_label_text_font_size = "22px"
    ax.axis_label_text_font_style = "normal"
    ax.axis_label_text_color = "black"
    ax.axis_label_standoff = 2


def make_panel(idx, width, height, x_range, left, top, bottom, xlabels, ylabels):
    p = figure(width=width, height=height, x_range=Range1d(*x_range), y_range=Range1d(*Y_RANGE),
               output_backend="svg", toolbar_location=None,
               min_border_left=left, min_border_right=0, min_border_top=top, min_border_bottom=bottom,
               outline_line_color=None, background_fill_color="white", border_fill_color="white")
    style_axis(p.xaxis[0], xlabels)
    style_axis(p.yaxis[0], ylabels)
    p.xaxis.axis_line_color = "#6e6e6e"
    if xlabels:
        p.xaxis.axis_label = "Observed Temperature (°C)"
        p.xaxis.major_label_standoff = 1
        p.xaxis.axis_label_standoff = 0
    if ylabels:
        p.yaxis.axis_label = "Modeled Temperature (°C)"

    top_axis = LinearAxis(ticker=FixedTicker(ticks=[], minor_ticks=[]), axis_line_color="#555555",
                          axis_line_width=1, major_tick_line_color=None, minor_tick_line_color=None,
                          major_label_standoff=0, major_tick_out=0, major_tick_in=0)
    p.add_layout(top_axis, "above")

    for g in (p.xgrid[0], p.ygrid[0]):
        g.ticker = FixedTicker(ticks=TICKS, minor_ticks=MINOR_TICKS)
        g.grid_line_color = "#EBEBEB"
        g.grid_line_width = 1
        g.minor_grid_line_color = "#F4F4F4"
        g.minor_grid_line_width = 0.7

    renderers = {}
    for s, color in enumerate(SEASON_COLORS):
        for d, marker in enumerate(DEPTH_MARKERS):
            pts = PANEL_POINTS[idx][s][d]
            if not pts:
                continue
            xs = [pt[0] for pt in pts]
            ys = [pt[1] for pt in pts]
            renderers[(s, d)] = p.scatter(xs, ys, marker=marker, size=MARKER_SIZES[d], fill_color=color,
                                          line_color=color, line_width=0.3)

    p.add_layout(Slope(gradient=1, y_intercept=0, line_color="#2b2b2b", line_width=1))

    p.add_layout(Label(x=TITLE_X[idx], y=21.85, text=TITLES[idx], text_font=FONT, text_font_size="20px",
                       text_align="left", text_baseline="middle", text_color="black"))
    p.add_layout(Label(x=5.0, y=20.0, text=RMSE_TEXT[idx], text_font=FONT, text_font_size="20px",
                       text_align="center", text_baseline="middle", text_color="black"))
    p.add_layout(Label(x=5.0, y=17.2, text=R2_TEXT[idx], text_font=FONT, text_font_size="20px",
                       text_align="center", text_baseline="middle", text_color="black"))
    return p


pa = make_panel(0, 590, 340, (-0.12, 22.59), 65, 6, 20, False, True)
pb = make_panel(1, 624, 340, (0.0, 21.94), 59, 6, 20, False, False)
pc = make_panel(2, 590, 360, (-0.12, 22.59), 65, 8, 52, True, True)
pd = make_panel(3, 624, 360, (0.0, 21.94), 59, 8, 52, True, False)

# legend key glyphs (a single NaN point each, so nothing is drawn in the plot area)
NAN = float("nan")
shape_items = []
for lab, marker in zip(DEPTH_GROUPS, DEPTH_MARKERS):
    r = pd.scatter(x=[NAN], y=[NAN], marker=marker, size=6, fill_color="black", line_color="black")
    shape_items.append(LegendItem(label=lab, renderers=[r]))
season_items = []
for lab, color in zip(SEASONS, SEASON_COLORS):
    r = pd.scatter(x=[NAN], y=[NAN], marker="circle", size=6, fill_color=color, line_color=color)
    season_items.append(LegendItem(label=lab, renderers=[r]))


def style_legend(leg, standoff):
    leg.title_text_font = FONT
    leg.title_text_font_size = "13px"
    leg.title_text_font_style = "normal"
    leg.title_text_color = "#1a1a1a"
    leg.label_text_font = FONT
    leg.label_text_font_size = "13px"
    leg.label_text_color = "#222222"
    leg.glyph_width = 14
    leg.glyph_height = 17
    leg.label_height = 17
    leg.label_standoff = standoff
    leg.spacing = 0
    leg.padding = 0
    leg.margin = 0
    leg.title_standoff = 5
    leg.border_line_color = None
    leg.background_fill_color = "white"
    leg.background_fill_alpha = 1.0


leg1 = Legend(items=shape_items, title="depth.group", location=(347, 32))
style_legend(leg1, 9)
leg2 = Legend(items=season_items, title="Season", location=(481, 15))
style_legend(leg2, 7)
pd.add_layout(leg1)
pd.add_layout(leg2)

layout = column(row(pa, pb, spacing=0), row(pc, pd, spacing=0), spacing=0)
open("out.html", "w").write(file_html(layout, INLINE))
